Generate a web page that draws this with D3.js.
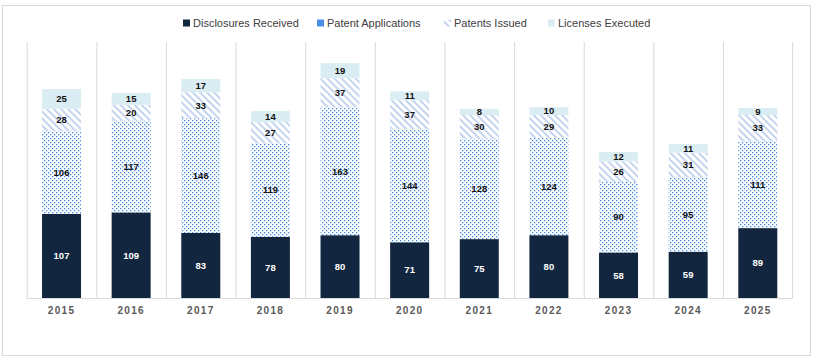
<!DOCTYPE html>
<html><head><meta charset="utf-8">
<script src="https://cdn.jsdelivr.net/npm/d3@7"></script>
<style>
html,body{margin:0;padding:0;background:#fff;}
svg{display:block;}
</style></head>
<body><svg id="chart" width="819" height="363"></svg>
<script>
const years = ["2015","2016","2017","2018","2019","2020","2021","2022","2023","2024","2025"];
const disclosures = [107,109,83,78,80,71,75,80,58,59,89];
const applications = [106,117,146,119,163,144,128,124,90,95,111];
const issued = [28,20,33,27,37,37,30,29,26,31,33];
const licenses = [25,15,17,14,19,11,8,10,12,11,9];
const seriesNames = ["Disclosures Received","Patent Applications","Patents Issued","Licenses Executed"];

const svg = d3.select("#chart");
const defs = svg.append("defs");
const dots = defs.append("pattern").attr("id","dots").attr("patternUnits","userSpaceOnUse")
  .attr("width",4).attr("height",4);
dots.append("rect").attr("width",4).attr("height",4).attr("fill","#fff");
dots.append("rect").attr("x",0).attr("y",0).attr("width",1.3).attr("height",1.3).attr("fill","#3f8ae8");
dots.append("rect").attr("x",2).attr("y",2).attr("width",1.3).attr("height",1.3).attr("fill","#3f8ae8");

const hatch = defs.append("pattern").attr("id","hatch").attr("patternUnits","userSpaceOnUse")
  .attr("width",5).attr("height",5).attr("patternTransform","rotate(-45)");
hatch.append("rect").attr("width",5).attr("height",5).attr("fill","#fff");
hatch.append("rect").attr("x",0).attr("y",0).attr("width",2).attr("height",5).attr("fill","#c4d4ee");

const fills = ["#12263f","url(#dots)","url(#hatch)","#daedf3"];
const textCol = ["#ffffff","#111","#111","#111"];

// outer border
svg.append("rect").attr("x",2.5).attr("y",5.5).attr("width",808).attr("height",350)
  .attr("fill","none").attr("stroke","#d9d9d9").attr("stroke-width",1);

const x = d3.scaleBand().domain(years).range([26.7,792.6]).paddingInner(0.44).paddingOuter(0.22);
const band = d3.scaleBand().domain(years).range([26.7,792.6]);
const y = d3.scaleLinear().domain([0,326]).range([298,42]);

// vertical gridlines at category boundaries
const g = svg.append("g");
years.forEach((yr,i)=>{
  const bx = band(yr);
  g.append("line").attr("x1",bx+0.5).attr("x2",bx+0.5).attr("y1",42).attr("y2",298)
    .attr("stroke","#d9d9d9").attr("stroke-width",1);
});
g.append("line").attr("x1",792.6).attr("x2",792.6).attr("y1",42).attr("y2",298)
  .attr("stroke","#d9d9d9").attr("stroke-width",1);

const data = years.map((yr,i)=>({year:yr, d:disclosures[i], a:applications[i], p:issued[i], l:licenses[i]}));
const stack = d3.stack().keys(["d","a","p","l"])(data);

stack.forEach((s,si)=>{
  svg.append("g").selectAll("rect").data(s).join("rect")
    .attr("x",d=>x(d.data.year)).attr("width",x.bandwidth())
    .attr("y",d=>y(d[1])).attr("height",d=>y(d[0])-y(d[1]))
    .attr("fill",fills[si]);
});
stack.forEach((s,si)=>{
  svg.append("g").selectAll("text").data(s).join("text")
    .attr("x",d=>x(d.data.year)+x.bandwidth()/2)
    .attr("y",d=>(y(d[0])+y(d[1]))/2)
    .attr("dy","0.35em").attr("text-anchor","middle")
    .attr("font-family","Liberation Sans, Arial, sans-serif").attr("font-weight","bold")
    .attr("font-size",9.5).attr("fill",textCol[si])
    .text(d=>d[1]-d[0]);
});

// baseline axis
svg.append("line").attr("x1",26.7).attr("x2",792.6).attr("y1",298.5).attr("y2",298.5)
  .attr("stroke","#d9d9d9").attr("stroke-width",1);
const xAxis = svg.append("g").attr("transform","translate(0,298)")
  .call(d3.axisBottom(band).tickSize(0).tickPadding(9));
xAxis.select(".domain").remove();
xAxis.selectAll("text").attr("font-family","Liberation Sans, Arial, sans-serif")
  .attr("font-weight","bold").attr("font-size",10).attr("fill","#595959")
  .attr("letter-spacing","1.3px");

// legend
const legend = svg.append("g").attr("transform","translate(0,23)");
let lx = 183;
const gaps = [183,317,444,548];
seriesNames.forEach((n,i)=>{
  const lg = legend.append("g").attr("transform",`translate(${gaps[i]},0)`);
  lg.append("rect").attr("x",0).attr("y",-3.5).attr("width",7).attr("height",7)
    .attr("fill",i===0?"#12263f":i===1?"#4a8ee6":i===2?"url(#hatch)":"#daedf3");
  lg.append("text").attr("x",10).attr("y",0).attr("dy","0.35em")
    .attr("font-family","Liberation Sans, Arial, sans-serif").attr("font-size",11)
    .attr("fill","#404040").text(n);
});
</script>
</body></html>
